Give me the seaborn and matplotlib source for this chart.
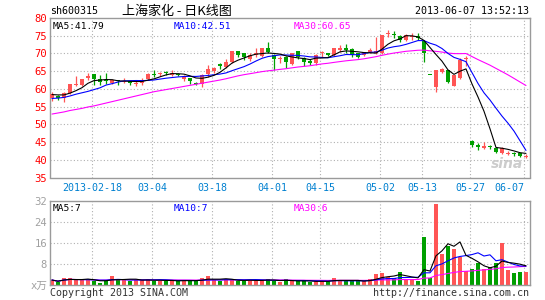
import numpy as np
import pandas as pd
import matplotlib
matplotlib.use("Agg")
import matplotlib.pyplot as plt
import seaborn as sns

# ---------------- data ----------------
tick_labels = ["2013-02-18", "03-04", "03-18", "04-01", "04-15",
               "05-02", "05-13", "05-27", "06-07"]
tick_index = [7, 17, 27, 37, 45, 55, 62, 70, 79]

opens = [57.3, 58.1, 57.3, 58.7, 61.1, 61.1, 63.1, 64.3, 62.9, 62.3,
         61.8, 62.4, 61.9, 62.1, 61.5, 61.8, 62.7, 64.2, 64.1, 64.7,
         63.9, 64.2, 62.7, 63.1, 61.8, 61.5, 64.1, 65.1, 67.0, 66.2,
         67.7, 70.7, 70.0, 68.3, 69.5, 69.3, 71.6, 69.6, 68.5, 68.9,
         67.0, 70.7, 68.6, 68.0, 67.2, 70.0, 70.0, 69.6, 71.0, 71.4,
         71.2, 70.0, 69.6, 70.3, 70.0, 70.0, 75.5, 75.5, 75.0, 73.9,
         74.6, 74.9, 73.6, 63.8, 60.6, 64.7, 65.3, 60.9, 63.0, 68.3,
         45.3, 44.3, 43.4, 43.7, 43.2, 41.8, 41.7, 41.9, 41.8, 40.9]
highs = [59.1, 58.2, 59.0, 61.4, 63.6, 62.9, 64.5, 64.3, 63.8, 64.5,
         62.7, 62.5, 63.2, 62.2, 62.3, 63.0, 64.4, 65.3, 64.8, 65.1,
         65.3, 64.4, 63.9, 63.1, 62.0, 64.2, 66.7, 66.3, 67.4, 68.3,
         70.7, 70.7, 70.0, 70.2, 71.4, 71.6, 73.3, 69.8, 69.3, 69.3,
         70.0, 70.7, 68.9, 68.3, 69.8, 70.8, 70.0, 71.4, 72.4, 72.6,
         71.4, 70.2, 70.5, 71.4, 74.5, 75.2, 76.6, 76.3, 75.2, 75.5,
         75.7, 75.7, 73.6, 63.8, 65.3, 65.8, 65.3, 63.9, 68.6, 69.2,
         45.6, 44.6, 44.9, 44.3, 43.5, 43.6, 42.6, 42.2, 41.9, 41.6]
lows = [56.5, 57.0, 56.2, 58.5, 60.8, 60.8, 62.5, 61.1, 61.1, 61.5,
        61.3, 61.1, 61.7, 61.1, 60.8, 61.0, 62.5, 63.4, 63.7, 63.9,
        63.6, 63.6, 62.3, 61.5, 61.1, 60.6, 63.4, 64.6, 65.6, 65.9,
        67.4, 68.9, 68.2, 67.9, 68.9, 69.1, 70.0, 65.3, 67.2, 65.9,
        66.8, 68.5, 66.4, 66.6, 66.7, 69.0, 69.3, 69.3, 70.5, 70.0,
        68.9, 68.6, 69.3, 70.0, 69.8, 69.9, 74.7, 74.3, 73.3, 73.6,
        73.8, 73.8, 67.7, 63.8, 59.2, 64.5, 61.6, 60.9, 62.8, 66.4,
        43.7, 42.8, 43.0, 43.1, 42.0, 41.5, 41.3, 41.2, 40.8, 40.4]
closes = [58.5, 57.5, 58.9, 61.3, 61.3, 62.7, 63.7, 62.7, 62.0, 62.1,
          62.5, 62.1, 62.3, 61.7, 61.8, 62.5, 64.1, 64.0, 64.6, 64.5,
          64.4, 63.9, 63.4, 62.2, 61.5, 63.9, 65.5, 66.0, 66.5, 67.7,
          70.7, 69.6, 69.1, 69.6, 70.0, 71.5, 70.5, 68.4, 68.7, 67.5,
          70.0, 69.1, 67.5, 67.2, 69.6, 70.2, 69.6, 71.4, 71.4, 71.0,
          69.6, 68.9, 70.3, 71.1, 70.6, 75.2, 75.8, 75.1, 73.8, 75.2,
          74.9, 74.3, 70.2, 63.8, 65.3, 65.5, 62.0, 63.9, 68.2, 68.6,
          44.3, 43.6, 43.8, 43.5, 42.2, 43.2, 42.0, 41.6, 41.0, 41.2]
volumes = [1.9, 1.0, 2.8, 2.8, 1.9, 1.9, 1.9, 1.5, 0.9, 1.9,
           3.6, 2.2, 1.9, 1.5, 1.9, 1.9, 2.3, 1.5, 1.5, 1.5,
           1.9, 1.5, 1.9, 1.5, 1.5, 2.8, 3.4, 1.9, 1.5, 2.3,
           1.9, 1.5, 1.5, 1.9, 1.9, 1.9, 2.2, 1.5, 1.0, 2.3,
           1.5, 1.5, 1.5, 1.0, 1.5, 1.5, 1.5, 2.8, 1.5, 1.5,
           1.5, 1.5, 1.5, 2.3, 4.1, 4.7, 3.2, 2.8, 5.1, 1.9,
           2.3, 1.5, 18.4, 2.5, 30.9, 11.8, 14.9, 13.7, 10.8, 5.3,
           6.1, 8.3, 6.1, 7.0, 8.3, 15.9, 5.7, 4.7, 5.1, 5.1]
# moving-average values at the start of the window
ma5_head = [58.4, 58.3, 58.3, 58.8]
ma10_head = [57.3, 57.4, 57.6, 58.0, 58.5, 58.9, 59.3, 59.8, 60.3]
ma30_head = [52.9, 53.2, 53.5, 53.9, 54.2, 54.5, 54.9, 55.2, 55.6, 56.0,
             56.4, 56.8, 57.2, 57.6, 58.0, 58.4, 58.8, 59.2, 59.5, 59.8,
             60.1, 60.4, 60.7, 61.0, 61.3, 61.6, 61.9, 62.2, 62.5]

# ---------------- build frame ----------------
n = len(closes)
df = pd.DataFrame({"i": np.arange(n), "open": opens, "high": highs,
                   "low": lows, "close": closes, "vol": volumes})
prev = df["close"].shift(1).fillna(df["close"])
df["up"] = (df["close"] > df["open"]) | ((df["close"] == df["open"]) & (df["close"] >= prev))

def ma(series, w, head):
    m = series.rolling(w).mean()
    if head is not None:
        m.iloc[:len(head)] = head
    return m

df["ma5"] = ma(df["close"], 5, ma5_head)
df["ma10"] = ma(df["close"], 10, ma10_head)
df["ma30"] = ma(df["close"], 30, ma30_head)
df["vma5"] = df["vol"].rolling(5, min_periods=1).mean()
df["vma10"] = df["vol"].rolling(10, min_periods=1).mean()
df["vma30"] = df["vol"].rolling(30, min_periods=1).mean()

RED = "#ff5555"
GREEN = "#00a000"
colors = [RED if u else GREEN for u in df["up"]]

# ---------------- style ----------------
sns.set_theme(style="white")
plt.rcParams["font.family"] = ["DejaVu Sans Mono", "Noto Sans CJK SC"]

W, H = 545, 300
fig = plt.figure(figsize=(W / 100, H / 100), dpi=100)
fig.patch.set_facecolor("white")

L, R = 50, 530
ax = fig.add_axes([L / W, 1 - 177.5 / H, (R - L) / W, (177.5 - 18) / H])
axv = fig.add_axes([L / W, 1 - 285 / H, (R - L) / W, (285 - 201) / H])

grid_kw = dict(color="#b0b0b0", lw=0.8, linestyle=(0, (1, 2)))
xl = (-0.33, n - 1 + 0.67)
tick_pos = [t - 0.33 for t in tick_index]

for a in (ax, axv):
    a.set_facecolor("white")
    for s in a.spines.values():
        s.set_color("#9a9a9a")
        s.set_linewidth(1.0)
    a.set_xlim(*xl)
    a.tick_params(length=0, pad=2)
    for t in tick_pos:
        a.axvline(t, zorder=0, **grid_kw)

LW = 0.8

# ---------------- price panel ----------------
ax.set_ylim(35, 80)
for y in range(40, 80, 5):
    ax.axhline(y, zorder=0, **grid_kw)
ax.vlines(df["i"], df["low"], df["high"], colors=colors, lw=0.9, zorder=2)
body_lo = np.minimum(df["open"], df["close"])
body_h = np.maximum(np.abs(df["close"] - df["open"]), 0.3)
ax.bar(df["i"], body_h, bottom=body_lo, width=0.75, color=colors,
       linewidth=0, zorder=3)
sns.lineplot(x=df["i"], y=df["ma30"], ax=ax, color="#ff00ff", lw=LW, zorder=4)
sns.lineplot(x=df["i"], y=df["ma10"], ax=ax, color="#0000ff", lw=LW, zorder=5)
sns.lineplot(x=df["i"], y=df["ma5"], ax=ax, color="black", lw=LW, zorder=6)
ax.set_xlabel("")
ax.set_ylabel("")
ax.set_yticks(range(35, 81, 5))
ax.set_yticklabels([str(v) for v in range(35, 81, 5)], color="#ff0000",
                   fontsize=7.6)
ax.set_xticks(tick_pos)
xt = ax.set_xticklabels(tick_labels, color="#0080d0", fontsize=7.2)
xt[-1].set_horizontalalignment("right")
ax.tick_params(axis="x", pad=4)
ax.text(0.005, 0.975, "MA5:41.79", transform=ax.transAxes, color="black",
        fontsize=6.8, va="top", ha="left")
ax.text(0.258, 0.975, "MA10:42.51", transform=ax.transAxes, color="#0000ff",
        fontsize=6.8, va="top", ha="left")
ax.text(0.508, 0.975, "MA30:60.65", transform=ax.transAxes, color="#ff00ff",
        fontsize=6.8, va="top", ha="left")
ax.text(0.985, 0.04, "sina", transform=ax.transAxes, color="#cccccc",
        fontsize=10, style="italic", weight="bold", ha="right", va="bottom",
        family="DejaVu Sans", zorder=1)

# ---------------- volume panel ----------------
axv.set_ylim(0, 32)
for y in (8, 16, 24):
    axv.axhline(y, zorder=0, **grid_kw)
axv.bar(df["i"], df["vol"], width=0.8, color=colors, linewidth=0, zorder=2)
sns.lineplot(x=df["i"], y=df["vma30"], ax=axv, color="#ff00ff", lw=LW, zorder=3)
sns.lineplot(x=df["i"], y=df["vma10"], ax=axv, color="#0000ff", lw=LW, zorder=4)
sns.lineplot(x=df["i"], y=df["vma5"], ax=axv, color="black", lw=LW, zorder=5)
axv.set_xlabel("")
axv.set_ylabel("")
axv.set_xticks(tick_pos)
axv.set_xticklabels([])
axv.set_yticks([0, 8, 16, 24, 32])
axv.set_yticklabels(["x万", "8", "16", "24", "32"], color="#a0a0a0",
                    fontsize=7.6)
axv.text(0.005, 0.96, "MA5:7", transform=axv.transAxes, color="black",
         fontsize=6.8, va="top", ha="left")
axv.text(0.258, 0.96, "MA10:7", transform=axv.transAxes, color="#0000ff",
         fontsize=6.8, va="top", ha="left")
axv.text(0.508, 0.96, "MA30:6", transform=axv.transAxes, color="#ff00ff",
         fontsize=6.8, va="top", ha="left")

# ---------------- header / footer ----------------
fig.text(50 / W, 1 - 11.5 / H, "sh600315", fontsize=7.2, color="black",
         ha="left", va="center")
fig.text(122 / W, 1 - 11.5 / H, "上海家化 - 日K线图", fontsize=9.4,
         color="black", ha="left", va="center",
         family=["Noto Sans CJK SC", "DejaVu Sans"])
fig.text(529 / W, 1 - 11.5 / H, "2013-06-07 13:52:13", fontsize=7.2,
         color="black", ha="right", va="center")
fig.text(50 / W, 1 - 293.5 / H, "Copyright 2013 SINA.COM", fontsize=7.2,
         color="#333333", ha="left", va="center")
fig.text(529 / W, 1 - 293.5 / H, "http://finance.sina.com.cn", fontsize=7.2,
         color="#333333", ha="right", va="center")

fig.savefig("out.png", dpi=100, facecolor="white")
